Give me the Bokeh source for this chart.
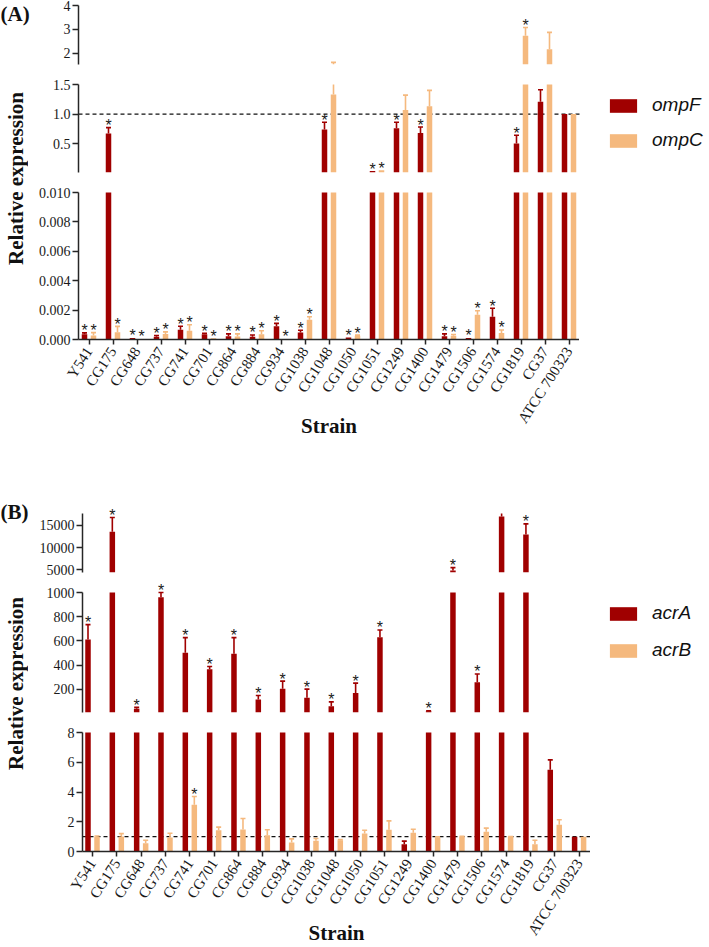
import math
from bokeh.plotting import figure
from bokeh.models import Range1d, FixedTicker, PrintfTickFormatter, Label, Legend, LegendItem, Spacer
from bokeh.layouts import column, row
from bokeh.embed import file_html
from bokeh.resources import INLINE
from bokeh.core.properties import value

# ---------------- data ----------------
strains = ["Y541", "CG175", "CG648", "CG737", "CG741", "CG701", "CG864", "CG884",
           "CG934", "CG1038", "CG1048", "CG1050", "CG1051", "CG1249", "CG1400",
           "CG1479", "CG1506", "CG1574", "CG1819", "CG37", "ATCC 700323"]

ompF = [0.00036, 0.67, 0.00011, 0.00018, 0.00067, 0.00036, 0.00022, 0.00018, 0.0009,
        0.00047, 0.74, 0.00013, 0.035, 0.76, 0.68, 0.00022, 0.00011, 0.00155, 0.50, 1.21, 1.0]
ompF_err = [0.00009, 0.10, 0.0, 0.00009, 0.00023, 0.00007, 0.00016, 0.00013, 0.0002,
            0.00016, 0.12, 0.0, 0.0, 0.10, 0.10, 0.00016, 0.0, 0.00058, 0.14, 0.20, 0.0]
ompF_sig = [1, 1, 1, 1, 1, 1, 1, 1, 1, 1, 1, 1, 1, 1, 1, 1, 1, 1, 1, 0, 0]

ompC = [0.00027, 0.00049, 0.00004, 0.00038, 0.0006, 0.00009, 0.0002, 0.00036, 0.00004,
        0.00135, 1.33, 0.00025, 0.05, 1.07, 1.13, 0.00025, 0.00169, 0.00045, 2.74, 2.18, 1.0]
ompC_err = [0.0002, 0.0004, 0.0, 0.00014, 0.0004, 0.0, 0.00018, 0.00024, 0.0,
            0.0002, 0.30, 0.00005, 0.0, 0.25, 0.27, 0.00009, 0.00027, 0.0002, 0.34, 0.70, 0.0]
ompC_sig = [1, 1, 1, 1, 1, 1, 1, 1, 1, 1, 0, 1, 1, 0, 0, 1, 1, 1, 1, 0, 0]

acrA = [612, 13600, 40, 960, 503, 366, 494, 117, 205, 131, 62, 170, 631, 0.49, 20,
        4850, 259, 17030, 12970, 5.5, 1.0]
acrA_err = [123, 3200, 12, 40, 125, 24, 134, 33, 64, 72, 36, 82, 60, 0.21, 3,
            650, 69, 740, 2400, 0.66, 0.0]
acrA_sig = [1, 1, 1, 1, 1, 1, 1, 1, 1, 1, 1, 1, 1, 0, 1, 1, 1, 1, 1, 0, 0]

acrB = [0.99, 1.01, 0.56, 0.94, 3.14, 1.43, 1.48, 1.10, 0.60, 0.72, 0.76, 1.21, 1.46,
        1.26, 0.94, 1.00, 1.32, 0.99, 0.49, 1.79, 1.0]
acrB_err = [0.05, 0.19, 0.20, 0.29, 0.56, 0.21, 0.74, 0.36, 0.25, 0.15, 0.04, 0.22, 0.60,
            0.24, 0.04, 0.03, 0.25, 0.02, 0.27, 0.34, 0.0]
acrB_sig = [0, 0, 0, 0, 1, 0, 0, 0, 0, 0, 0, 0, 0, 0, 0, 0, 0, 0, 0, 0, 0]

ref_level = 1.0

# broken-axis segments: (low, high, tick values, tick format)
A_top = (1.54, 4.0, [2, 3, 4], "%d")
A_mid = (0.01, 1.5, [0.5, 1.0, 1.5], "%.1f")
A_low = (0.0, 0.010, [0.000, 0.002, 0.004, 0.006, 0.008, 0.010], "%.3f")
B_top = (4400, 17700, [5000, 10000, 15000], "%d")
B_mid = (10, 1000, [200, 400, 600, 800, 1000], "%d")
B_low = (0, 8, [0, 2, 4, 6, 8], "%d")

# ---------------- style ----------------
DARK = "#A00000"
LIGHT = "#F5B97E"
AXIS = "#262626"
SERIF = "Liberation Serif"
SANS = "Liberation Sans"
N = len(strains)
X_END = N - 0.55
TW = 28      # width of the y-title strip
TOTAL_W = 709


def style_axis(ax, size):
    ax.axis_line_color = AXIS
    ax.axis_line_width = 1.5
    ax.major_tick_line_color = AXIS
    ax.major_tick_line_width = 1.5
    ax.major_tick_out = 6
    ax.major_tick_in = 0
    ax.minor_tick_line_color = None
    ax.major_label_text_font = SERIF
    ax.major_label_text_font_size = size
    ax.major_label_text_color = "#1a1a1a"
    ax.major_label_standoff = 2


def make_seg(seg, seg_px, pad_px, x_lo, unit_px, frame_w, border_left, border_bottom,
             with_x, label_standoff):
    lo, hi, ticks, fmt = seg
    per = seg_px / (hi - lo)
    p = figure(frame_width=frame_w, frame_height=seg_px + pad_px,
               x_range=Range1d(x_lo, x_lo + frame_w / unit_px),
               y_range=Range1d(lo, hi + pad_px / per),
               output_backend="svg", toolbar_location=None,
               min_border_left=border_left, min_border_right=0,
               min_border_top=0, min_border_bottom=border_bottom,
               x_axis_location="below" if with_x else None,
               outline_line_color=None)
    p.grid.visible = False
    ya = p.yaxis[0]
    ya.bounds = (lo, hi)
    ya.ticker = FixedTicker(ticks=ticks)
    ya.formatter = PrintfTickFormatter(format=fmt)
    style_axis(ya, "14px")
    if with_x:
        xa = p.xaxis[0]
        xa.bounds = (x_lo, X_END)
        xa.ticker = FixedTicker(ticks=list(range(N)))
        xa.major_label_overrides = {i: s for i, s in enumerate(strains)}
        xa.major_label_orientation = math.radians(57)
        style_axis(xa, "15px")
        xa.major_tick_out = 5
        xa.major_label_standoff = 4
        xa.axis_label = "Strain"
        xa.axis_label_text_font = SERIF
        xa.axis_label_text_font_style = "bold"
        xa.axis_label_text_font_size = "21px"
        xa.axis_label_text_color = "#111111"
        xa.axis_label_standoff = label_standoff
    return p, per


def draw_series(p, seg, off, color, vals, errs, sig, bw, cw):
    lo, hi = seg[0], seg[1]
    xs = [i + off for i in range(N)]
    btop = [max(min(v, hi), lo) for v in vals]
    wx, wy0, wy1 = [], [], []
    cx0, cx1, cy = [], [], []
    sx, sy = [], []
    for x, v, e, s in zip(xs, vals, errs, sig):
        t = v + e
        if e > 0:
            y0 = max(min(v, hi), lo)
            y1 = min(t, hi)
            if y1 > y0:
                wx.append(x); wy0.append(y0); wy1.append(y1)
            if lo <= t <= hi:
                cx0.append(x - cw / 2); cx1.append(x + cw / 2); cy.append(t)
        if s and lo <= t <= hi:
            sx.append(x); sy.append(t)
    r = p.vbar(x=xs, top=btop, bottom=lo, width=bw, fill_color=color, line_color=None)
    p.segment(x0=wx, y0=wy0, x1=wx, y1=wy1, line_color=color, line_width=1.6)
    p.segment(x0=cx0, y0=cy, x1=cx1, y1=cy, line_color=color, line_width=1.6)
    p.text(x=sx, y=sy, text=["*"] * len(sx), text_align="center", text_baseline="alphabetic",
           y_offset=-2, text_font=value(SANS), text_font_size="16px", text_color="#1a1a1a")
    return r


def ref_line(p):
    p.line(x=[p.x_range.start, X_END], y=[ref_level, ref_level], line_dash="4 3",
           line_color="#111111", line_width=1.2)


def add_legend(p, r1, r2, n1, n2, lx, ly, spacing):
    leg = Legend(items=[LegendItem(label=n1, renderers=[r1]), LegendItem(label=n2, renderers=[r2])],
                 location=(lx, ly), orientation="vertical", border_line_color=None,
                 background_fill_alpha=0, padding=0, margin=0, spacing=spacing,
                 glyph_width=34, glyph_height=17, label_height=17, label_standoff=12,
                 label_text_font=SANS, label_text_font_style="italic",
                 label_text_font_size="19px", label_text_color="#111111")
    p.add_layout(leg)


def blank_fig(w, h):
    t = figure(width=w, height=h, x_range=Range1d(0, w), y_range=Range1d(0, h),
               output_backend="svg", toolbar_location=None, min_border=0,
               x_axis_location=None, y_axis_location=None, outline_line_color=None)
    t.grid.visible = False
    return t


def panel(tag, tag_w, tag_top, segs, seg_px, top_pad, s1, s2, names, unit_px, x_px0, axis_px,
          leg_pos, leg_spacing, ref_seg, ytitle_y, bottom_border, label_standoff):
    x_lo = -(x_px0 - axis_px) / unit_px
    frame_wide = TOTAL_W - axis_px                   # room for the legend
    frame_axis = int(round((X_END - x_lo) * unit_px))  # exactly the x-axis extent
    bw = 5.5 / unit_px
    off = 4.5 / unit_px
    cw = 5.0 / unit_px
    figs = []
    for k, (seg, spx) in enumerate(zip(segs, seg_px)):
        pad = top_pad if k == 0 else 10
        border_left = (axis_px - tag_w) if k == 0 else (axis_px - TW)
        with_x = (k == 2)
        bb = bottom_border if with_x else 10
        fw = frame_axis if with_x else frame_wide
        p, per = make_seg(seg, spx, pad, x_lo, unit_px, fw, border_left, bb, with_x,
                          label_standoff)
        if k == ref_seg:
            ref_line(p)
        r1 = draw_series(p, seg, -off, DARK, *s1, bw, cw)
        r2 = draw_series(p, seg, off, LIGHT, *s2, bw, cw)
        if k == 1:
            add_legend(p, r1, r2, names[0], names[1], leg_pos[0], leg_pos[1], leg_spacing)
        figs.append(p)
    h1 = seg_px[0] + top_pad + 10
    tagfig = blank_fig(tag_w, h1)
    tagfig.add_layout(Label(x=0, y=h1 - tag_top, text=tag, text_font=SERIF, text_font_style="bold",
                            text_font_size="21px", text_align="left", text_baseline="top",
                            text_color="#111111"))
    h_rest = seg_px[1] + 20 + seg_px[2] + 10 + bottom_border
    strip = blank_fig(TW, h_rest)
    strip.add_layout(Label(x=15, y=ytitle_y, text="Relative expression", angle=math.pi / 2,
                           text_font=SERIF, text_font_style="bold", text_font_size="21px",
                           text_align="center", text_baseline="middle", text_color="#111111"))
    return column(row(tagfig, figs[0], spacing=0),
                  row(strip, column(figs[1], figs[2], spacing=0), spacing=0), spacing=0)


panelA = panel("(A)", 34, 2, [A_top, A_mid, A_low], [59, 88, 147], 5,
               (ompF, ompF_err, ompF_sig), (ompC, ompC_err, ompC_sig), ("ompF", "ompC"),
               24.0, 88.5, 78, (528, 21), 13, 1, 261, 100, -19)

panelB = panel("(B)", 34, 7, [B_top, B_mid, B_low], [59, 120, 119], 20,
               (acrA, acrA_err, acrA_sig), (acrB, acrB_err, acrB_sig), ("acrA", "acrB"),
               24.33, 92.0, 82, (524, 51), 15, 2, 263, 95, -24)

layout = column(panelA, Spacer(width=10, height=52), panelB, spacing=0)

open("out.html", "w").write(file_html(layout, INLINE))
